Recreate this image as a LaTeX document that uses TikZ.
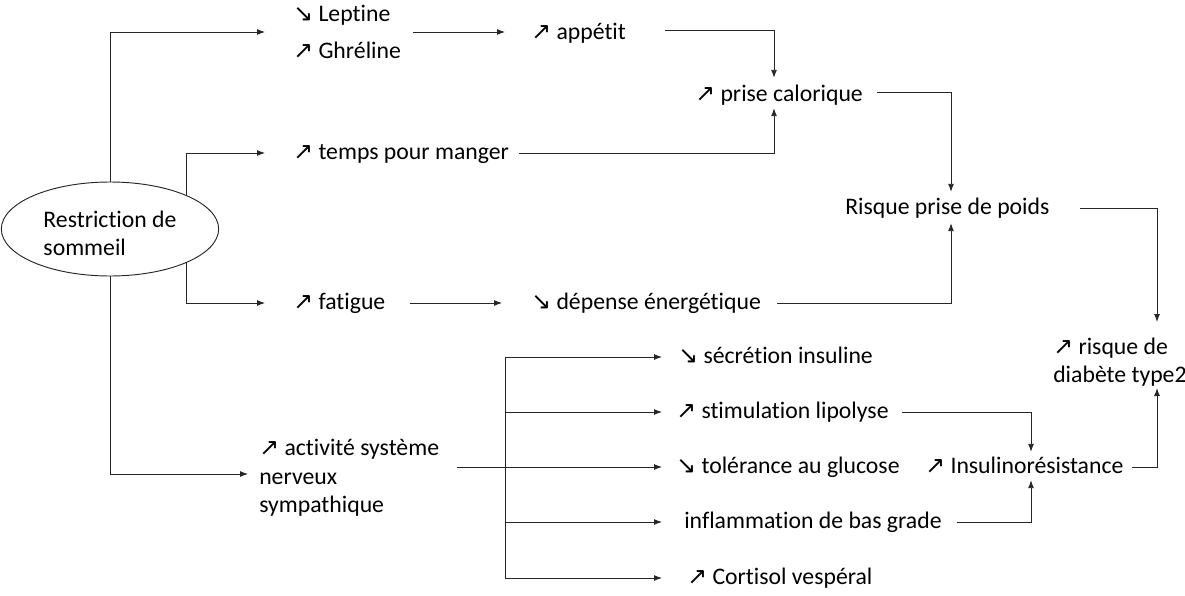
\documentclass[tikz,border=0pt]{standalone}
\usepackage{fontspec}
\setmainfont{Carlito}[Ligatures=NoCommon]
\newfontfamily\arrowfont{DejaVu Sans}[Scale=1.0]
\usetikzlibrary{shapes.geometric,arrows.meta,calc}
\newcommand{\hausse}{{\arrowfont\char"2197}}
\newcommand{\baisse}{{\arrowfont\char"2198}}

\begin{document}
\begin{tikzpicture}[x=0.75pt,y=-0.75pt,
  font=\fontsize{17.8}{21.4}\selectfont,
  lbl/.style={inner sep=0pt,anchor=west,text height=0.98em,text depth=0pt},
  blk/.style={inner sep=0pt,anchor=west,align=left},
  plain/.style={draw=black!85,line width=0.7pt},
  link/.style={plain,-{Latex[length=6pt,width=4.5pt]}}]
\useasboundingbox (0,0) rectangle (1185,596);

\node[ellipse,draw=black!85,line width=0.7pt,fill=white,inner sep=0pt,
  minimum width=163pt,minimum height=70.5pt,align=left] (sleep) at (110,229) {\rule{0pt}{19pt}Restriction de\\sommeil};
\node[blk] (hormones) at (293,32) {\baisse{} Leptine\\[6.3pt]\hausse{} Ghréline};
\node[lbl] (appetit) at (531,33) {\hausse{} appétit};
\node[lbl] (calorie) at (695,95) {\hausse{} prise calorique};
\node[lbl] (time) at (293,153) {\hausse{} temps pour manger};
\node[lbl] (weight) at (845,208) {Risque prise de poids};
\node[lbl] (fatigue) at (293,303) {\hausse{} fatigue};
\node[lbl] (energy) at (531,303) {\baisse{} dépense énergétique};
\node[blk] (diabetes) at (1053,362) {\hausse{} risque de\\diabète type2};
\node[blk] (snsa) at (259,478) {\hausse{} activité système\\nerveux\\sympathique};
\node[lbl] (insulin) at (678,357) {\baisse{} sécrétion insuline};
\node[lbl] (lipo) at (676,412) {\hausse{} stimulation lipolyse};
\node[lbl] (gluc) at (676,467) {\baisse{} tolérance au glucose};
\node[lbl] (inflam) at (684,522) {inflammation de bas grade};
\node[lbl] (cortisol) at (687,578) {\hausse{} Cortisol vespéral};
\node[lbl] (resist) at (925,467) {\hausse{} Insulinorésistance};
\coordinate (hub) at (505,467);

\draw[link] (sleep.north) |- ($(hormones.west)+(-28,0)$);
\draw[link] (sleep.24) |- ($(time.west)+(-28,0)$);
\draw[link] (sleep.-24) |- ($(fatigue.west)+(-28,0)$);
\draw[link] (sleep.south) |- ($(snsa.west)+(-11,-4)$);
\draw[link] ($(hormones.east)+(12,0)$) -- ($(appetit.west)+(-26,-1)$);
\draw[link] ($(appetit.east)+(39,-3)$) -| ($(calorie.north west)+(79,-10.4)$);
\draw[link] ($(time.east)+(10,0)$) -| ($(calorie.south west)+(79,6.4)$);
\draw[link] ($(calorie.east)+(14,-3)$) -| ($(weight.north west)+(106,-9.4)$);
\draw[link] ($(fatigue.east)+(24,0)$) -- ($(energy.west)+(-29,0)$);
\draw[link] ($(energy.east)+(16,0)$) -| ($(weight.south west)+(106,8.4)$);
\draw[link] ($(weight.east)+(30,0)$) -| ($(diabetes.west)+(104,-40)$);
\draw[link] ($(resist.east)+(8,0)$) -| ($(diabetes.west)+(104,26)$);
\draw[link] ($(lipo.east)+(13,0)$) -| ($(resist.north west)+(106,-8.4)$);
\draw[link] ($(inflam.east)+(15,0)$) -| ($(resist.south west)+(106,6.4)$);

\draw[plain] ($(snsa.east |- hub)+(18,0)$) -- (hub);
\draw[plain] (hub |- insulin) -- (hub |- cortisol);
\foreach \to/\gap in {insulin/16,lipo/14,gluc/14,inflam/22,cortisol/25}
\draw[link] (hub |- \to) -- ($(\to.west)+(-\gap,0)$);
\end{tikzpicture}
\end{document}
